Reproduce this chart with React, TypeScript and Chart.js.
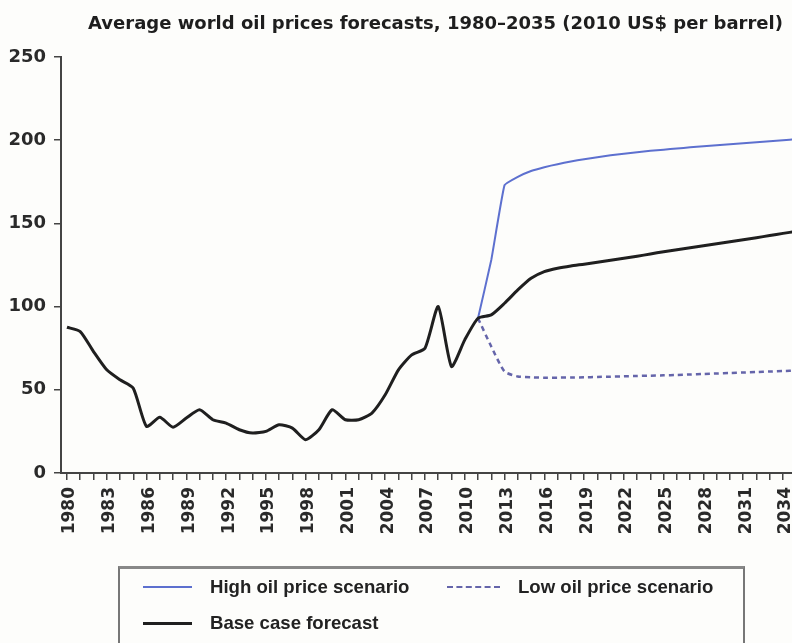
import React, { useEffect, useRef } from 'react';
import { Chart, registerables } from 'chart.js';

Chart.register(...registerables);

const TITLE = 'Average world oil prices forecasts, 1980–2035 (2010 US$ per barrel)';

const years = [
  1980, 1981, 1982, 1983, 1984, 1985, 1986, 1987, 1988, 1989,
  1990, 1991, 1992, 1993, 1994, 1995, 1996, 1997, 1998, 1999,
  2000, 2001, 2002, 2003, 2004, 2005, 2006, 2007, 2008, 2009,
  2010, 2011, 2012, 2013, 2014, 2015, 2016, 2017, 2018, 2019,
  2020, 2021, 2022, 2023, 2024, 2025, 2026, 2027, 2028, 2029,
  2030, 2031, 2032, 2033, 2034, 2035,
];

const baseCase = [
  87.6, 85, 73, 62, 56, 51, 28, 33.5, 27.5, 33,
  38, 32, 30, 26, 24, 25, 29, 27, 20, 26,
  38, 32, 32, 36, 47, 62, 71, 75, 100, 64,
  80, 93, 95, 102, 110, 117, 121, 123, 124.4, 125.5,
  126.7, 127.9, 129.1, 130.3, 131.6, 133, 134.2, 135.4, 136.6, 137.8,
  139, 140.2, 141.4, 142.7, 144, 145.2,
];

const forecastYears = [
  2011, 2012, 2013, 2014, 2015, 2016, 2017, 2018, 2019, 2020,
  2021, 2022, 2023, 2024, 2025, 2026, 2027, 2028, 2029, 2030,
  2031, 2032, 2033, 2034, 2035,
];

const highScenario = [
  93, 128, 173, 178, 181.5, 183.8, 185.6, 187.2, 188.6, 189.8,
  190.9, 191.9, 192.8, 193.6, 194.3, 195, 195.7, 196.3, 196.9, 197.5,
  198.1, 198.7, 199.3, 200, 200.6,
];

const lowScenario = [
  93, 76, 61, 58, 57.5, 57.3, 57.3, 57.4, 57.5, 57.7,
  57.9, 58.1, 58.3, 58.5, 58.7, 58.9, 59.2, 59.5, 59.8, 60.1,
  60.4, 60.7, 61, 61.3, 61.5,
];

const xTickLabels = [
  '1980', '1983', '1986', '1989', '1992', '1995', '1998', '2001', '2004', '2007',
  '2010', '2013', '2016', '2019', '2022', '2025', '2028', '2031', '2034',
];

const yTicks = [0, 50, 100, 150, 200, 250];

const HIGH_COLOR = '#5d70cf';
const LOW_COLOR = '#6565aa';
const BASE_COLOR = '#1f1f1f';
const AXIS_COLOR = '#444';
const TEXT_COLOR = '#2a2a2a';

const titlePlugin = {
  id: 'topTitle',
  afterDraw(chart: any) {
    const ctx = chart.ctx;
    ctx.save();
    const family = '"DejaVu Sans", sans-serif';
    ctx.font = `bold 18px ${family}`;
    const w = ctx.measureText(TITLE).width;
    const size = Math.min(20, (18 * 695) / w);
    ctx.font = `bold ${size}px ${family}`;
    ctx.fillStyle = '#1e1e1e';
    ctx.textAlign = 'center';
    ctx.textBaseline = 'alphabetic';
    ctx.fillText(TITLE, 435.5, 29);
    ctx.restore();
  },
};

export default function App() {
  const ref = useRef<HTMLCanvasElement | null>(null);

  useEffect(() => {
    if (!ref.current) return;
    const chart = new Chart(ref.current, {
      type: 'line',
      data: {
        datasets: [
          {
            label: 'Base case forecast',
            data: years.map((x, i) => ({ x, y: baseCase[i] })),
            borderColor: BASE_COLOR,
            borderWidth: 3,
            pointRadius: 0,
            tension: 0.2,
            order: 0,
          },
          {
            label: 'High oil price scenario',
            data: forecastYears.map((x, i) => ({ x, y: highScenario[i] })),
            borderColor: HIGH_COLOR,
            borderWidth: 2,
            pointRadius: 0,
            tension: 0.1,
            order: 1,
          },
          {
            label: 'Low oil price scenario',
            data: forecastYears.map((x, i) => ({ x, y: lowScenario[i] })),
            borderColor: LOW_COLOR,
            borderWidth: 2.5,
            borderDash: [5, 4],
            pointRadius: 0,
            tension: 0.2,
            order: 2,
          },
        ],
      },
      options: {
        responsive: false,
        animation: false,
        layout: { padding: { top: 57, left: 0, right: 0, bottom: 0 } },
        plugins: {
          legend: { display: false },
          title: { display: false },
          tooltip: { enabled: false },
        },
        scales: {
          x: {
            type: 'linear',
            min: 1979.55,
            max: 2034.68,
            afterFit(scale: any) {
              scale.height = 170;
              scale.paddingLeft = 0;
              scale.paddingRight = 0;
            },
            border: { display: true, color: AXIS_COLOR, width: 2 },
            grid: {
              drawOnChartArea: false,
              drawTicks: true,
              tickLength: 7,
              color: AXIS_COLOR,
              lineWidth: 1.5,
            },
            ticks: {
              stepSize: 1,
              maxTicksLimit: 200,
              autoSkip: false,
              includeBounds: false,
              minRotation: 90,
              maxRotation: 90,
              padding: 7,
              labelOffset: 3,
              color: TEXT_COLOR,
              font: { family: '"DejaVu Sans", sans-serif', weight: 'bold', size: 17 },
              callback: (value: any) =>
                xTickLabels.includes(String(value)) ? String(value) : '',
            },
          },
          y: {
            type: 'linear',
            min: 0,
            max: 250,
            afterFit(scale: any) {
              scale.width = 61;
              scale.paddingTop = 0;
              scale.paddingBottom = 0;
            },
            afterBuildTicks(scale: any) {
              scale.ticks = yTicks.map((v) => ({ value: v }));
            },
            border: { display: true, color: AXIS_COLOR, width: 2 },
            grid: {
              drawOnChartArea: false,
              drawTicks: true,
              tickLength: 7,
              color: AXIS_COLOR,
              lineWidth: 1.5,
            },
            ticks: {
              padding: 8,
              color: TEXT_COLOR,
              font: { family: '"DejaVu Sans", sans-serif', weight: 'bold', size: 18 },
            },
          },
        },
      },
      plugins: [titlePlugin],
    } as any);
    return () => chart.destroy();
  }, []);

  const textStyle: React.CSSProperties = {
    position: 'absolute',
    font: 'bold 18.6px "Liberation Sans", Arial, sans-serif',
    color: '#222',
    whiteSpace: 'nowrap',
    lineHeight: '20px',
  };

  return (
    <div
      style={{
        position: 'absolute',
        left: 0,
        top: 0,
        width: 792,
        height: 643,
        overflow: 'hidden',
        background: '#fdfdfb',
      }}
    >
      <canvas ref={ref} width={792} height={643} style={{ display: 'block' }} />
      <div
        style={{
          position: 'absolute',
          left: 118,
          top: 566,
          width: 627,
          height: 100,
          borderLeft: '2px solid #777',
          borderRight: '2px solid #777',
          borderTop: '3px solid #888',
          boxSizing: 'border-box',
        }}
      />
      <div style={{ position: 'absolute', left: 143, top: 586, width: 49, height: 0, borderTop: `2px solid ${HIGH_COLOR}` }} />
      <div style={{ ...textStyle, left: 210, top: 577 }}>High oil price scenario</div>
      <div style={{ position: 'absolute', left: 447, top: 586, width: 53, height: 0, borderTop: `2px dashed ${LOW_COLOR}` }} />
      <div style={{ ...textStyle, left: 518, top: 577 }}>Low oil price scenario</div>
      <div style={{ position: 'absolute', left: 143, top: 622, width: 49, height: 0, borderTop: `3px solid ${BASE_COLOR}` }} />
      <div style={{ ...textStyle, left: 210, top: 613 }}>Base case forecast</div>
    </div>
  );
}
